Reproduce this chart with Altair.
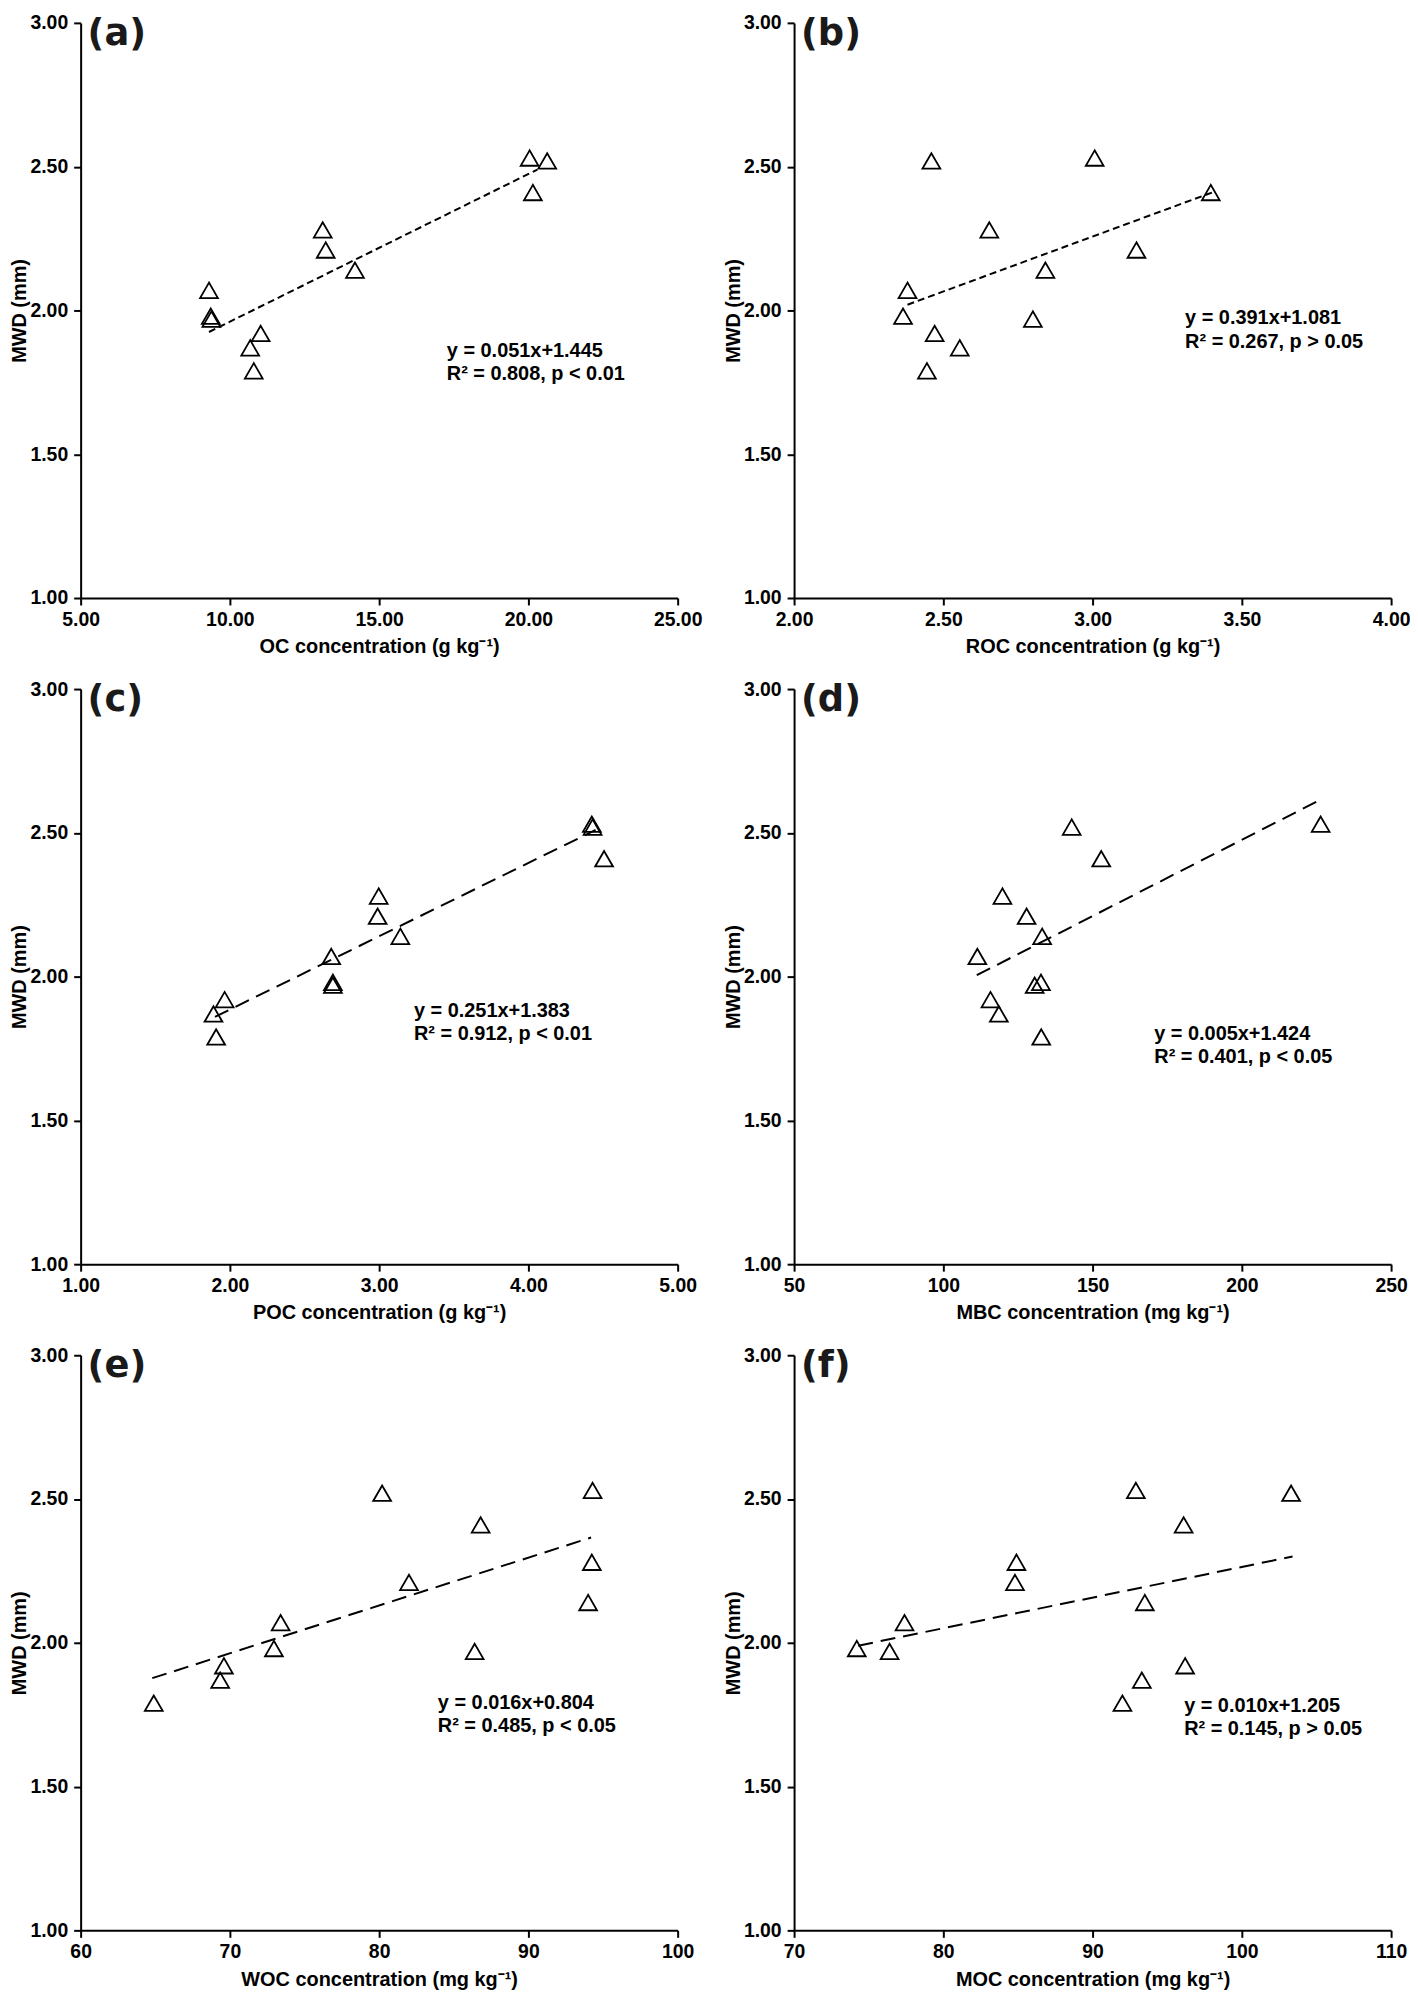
import altair as alt
import pandas as pd

FONT = "Liberation Sans"
LABEL_FONT = "DejaVu Sans"

# MWD values (mm), same order of samples in every panel
MWD = [2.53, 2.52, 2.41, 2.28, 2.21, 2.14, 2.07, 1.98, 1.97, 1.92, 1.87, 1.79]

# x values per panel (same sample order as MWD)
OC = [20.04, 20.63, 20.15, 13.11, 13.21, 14.19, 9.30, 9.36, 9.38, 11.03, 10.68, 10.80]
ROC = [3.007, 2.46, 3.396, 2.654, 3.147, 2.842, 2.380, 2.365, 2.80, 2.471, 2.555, 2.445]
POC = [4.425, 4.43, 4.507, 2.997, 2.99, 3.142, 2.679, 2.69, 2.69, 1.965, 1.89, 1.908]
MBC = [226.4, 143.0, 152.9, 119.8, 127.9, 133.1, 111.4, 132.7, 130.6, 115.8, 118.6, 132.8]
WOC = [94.3, 80.2, 86.8, 94.25, 82.0, 94.0, 73.4, 72.95, 86.4, 69.6, 69.35, 64.9]
MOC = [92.9, 103.3, 96.1, 84.9, 84.8, 93.5, 77.4, 74.2, 76.4, 96.2, 93.3, 92.0]

# fitted line end points
FIT_A_X, FIT_A_Y = [9.3, 20.3], [1.925, 2.49]
FIT_B_X, FIT_B_Y = [2.38, 3.40], [2.02, 2.41]
FIT_C_X, FIT_C_Y = [1.90, 4.45], [1.86, 2.51]
FIT_D_X, FIT_D_Y = [111.2, 226.1], [2.005, 2.614]
FIT_E_X, FIT_E_Y = [64.8, 94.2], [1.877, 2.366]
FIT_F_X, FIT_F_Y = [74.3, 103.4], [1.99, 2.30]

EQ = {
    "a": ["y = 0.051x+1.445", "R\u00b2 = 0.808, p < 0.01"],
    "b": ["y = 0.391x+1.081", "R\u00b2 = 0.267, p > 0.05"],
    "c": ["y = 0.251x+1.383", "R\u00b2 = 0.912, p < 0.01"],
    "d": ["y = 0.005x+1.424", "R\u00b2 = 0.401, p < 0.05"],
    "e": ["y = 0.016x+0.804", "R\u00b2 = 0.485, p < 0.05"],
    "f": ["y = 0.010x+1.205", "R\u00b2 = 0.145, p > 0.05"],
}

Y_TICKS = [1.0, 1.5, 2.0, 2.5, 3.0]

W, H = 600, 578
HS = H / 582.0  # vertical scale factor for annotation offsets


def panel(letter, xs, xtitle, xdom, xticks, xfmt, fx, fy, dash, ann_x, ann_y):
    xscale = alt.Scale(domain=xdom, nice=False, zero=False)
    yscale = alt.Scale(domain=[1, 3], nice=False, zero=False)
    xaxis = alt.Axis(title=xtitle, values=xticks, format=xfmt, labelFlush=False)
    yaxis = alt.Axis(title="MWD (mm)", values=Y_TICKS, format=".2f", labelFlush=False)
    pts = pd.DataFrame({"x": xs, "y": MWD})
    fit = pd.DataFrame({"x": fx, "y": fy})
    line = alt.Chart(fit).mark_line(color="black", strokeDash=dash, strokeWidth=2).encode(
        x=alt.X("x:Q", scale=xscale, axis=xaxis),
        y=alt.Y("y:Q", scale=yscale, axis=yaxis),
    )
    points = alt.Chart(pts).mark_point(
        shape="triangle-up", filled=False, size=320, stroke="black",
        strokeWidth=1.8, opacity=1
    ).encode(x="x:Q", y="y:Q")
    one = pd.DataFrame({"k": [0]})
    t1 = alt.Chart(one).mark_text(
        text=EQ[letter][0], align="left", baseline="middle", font=FONT,
        fontSize=20, fontWeight="bold", color="black"
    ).encode(x=alt.value(ann_x), y=alt.value(ann_y * HS))
    t2 = alt.Chart(one).mark_text(
        text=EQ[letter][1], align="left", baseline="middle", font=FONT,
        fontSize=20, fontWeight="bold", color="black"
    ).encode(x=alt.value(ann_x), y=alt.value((ann_y + 23.5) * HS))
    lab = alt.Chart(one).mark_text(
        text="(" + letter + ")", align="left", baseline="top", font=LABEL_FONT,
        fontSize=37, fontWeight="bold", color="#1a1a1a"
    ).encode(x=alt.value(7), y=alt.value(-7))
    return alt.layer(line, points, t1, t2, lab).properties(width=W, height=H)


pa = panel("a", OC, "OC concentration (g kg\u207b\u00b9)", [5, 25], [5, 10, 15, 20, 25], ".2f",
           FIT_A_X, FIT_A_Y, [7, 4], 368, 332)
pb = panel("b", ROC, "ROC concentration (g kg\u207b\u00b9)", [2, 4], [2, 2.5, 3, 3.5, 4], ".2f",
           FIT_B_X, FIT_B_Y, [7, 4], 393, 299)
pc = panel("c", POC, "POC concentration (g kg\u207b\u00b9)", [1, 5], [1, 2, 3, 4, 5], ".2f",
           FIT_C_X, FIT_C_Y, [15, 8], 335, 326)
pd_ = panel("d", MBC, "MBC concentration (mg kg\u207b\u00b9)", [50, 250], [50, 100, 150, 200, 250], "d",
            FIT_D_X, FIT_D_Y, [15, 8], 362, 349)
pe = panel("e", WOC, "WOC concentration (mg kg\u207b\u00b9)", [60, 100], [60, 70, 80, 90, 100], "d",
           FIT_E_X, FIT_E_Y, [15, 8], 359, 352)
pf = panel("f", MOC, "MOC concentration (mg kg\u207b\u00b9)", [70, 110], [70, 80, 90, 100, 110], "d",
           FIT_F_X, FIT_F_Y, [15, 8], 392, 355)

chart = alt.concat(pa, pb, pc, pd_, pe, pf, columns=2,
                   spacing={"row": 91.5, "column": 117}, bounds="flush").properties(
    padding={"left": 2, "top": 0, "right": 0, "bottom": 0},
    background="white",
).configure_view(stroke=None).configure_axis(
    grid=False,
    domainColor="black", domainWidth=2,
    tickColor="black", tickWidth=2, tickSize=7,
    labelFont=FONT, labelFontSize=19.5, labelFontWeight="bold", labelColor="black",
    titleFont=FONT, titleFontSize=20, titleFontWeight="bold", titleColor="black",
).configure_axisX(
    labelPadding=5.5, titlePadding=8,
).configure_axisY(
    labelPadding=6, titlePadding=0,
)

chart.save("out.html", embed_options={"renderer": "svg", "actions": False})
